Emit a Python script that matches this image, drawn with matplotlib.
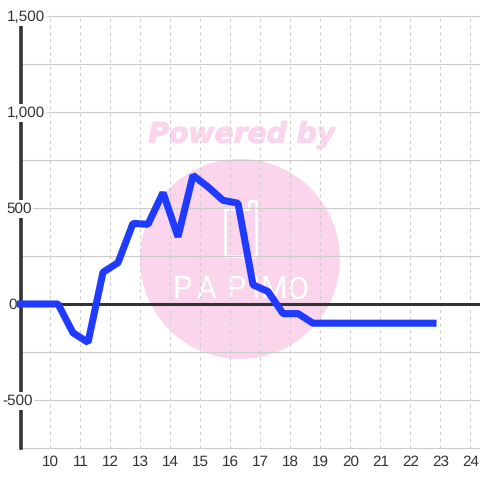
import matplotlib
matplotlib.use('Agg')
import matplotlib.pyplot as plt
import matplotlib.patheffects as pe
from matplotlib.patches import Circle, Polygon
from matplotlib.transforms import blended_transform_factory, ScaledTranslation

hours = [9, 9.25, 9.75, 10.25, 10.75, 11.25, 11.75, 12.25, 12.75, 13.25, 13.75,
         14.25, 14.75, 15.25, 15.75, 16.25, 16.75, 17.25, 17.75, 18.25, 18.75,
         19.25, 19.75, 20.25, 20.75, 21.25, 21.75, 22.25, 22.75]
values = [0, 0, 0, 0, -150, -200, 165, 215, 420, 415, 580,
          350, 670, 610, 540, 525, 100, 65, -50, -50, -100,
          -100, -100, -100, -100, -100, -100, -100, -100]
x_ticks = list(range(10, 25))
y_major = [-500, 0, 500, 1000, 1500]
y_minor = [-750, -250, 250, 750, 1250]
y_labels = ['-500', '0', '500', '1,000', '1,500']
label_left = [2, 8, 6, 7, 7]

plt.rcParams['font.family'] = ['Liberation Sans', 'DejaVu Sans']
plt.rcParams['text.hinting'] = 'none'

fig = plt.figure(figsize=(4.8, 4.8), dpi=100)

# watermark sits behind everything, drawn in pixel coords
bg = fig.add_axes([0, 0, 1, 1], zorder=0)
bg.set_xlim(0, 480)
bg.set_ylim(480, 0)
bg.axis('off')
pink = '#fbd5ec'
bg.add_patch(Circle((240, 259), 100, fc=pink, ec='none'))
bg.text(242, 135, 'Powered by', color=pink, fontsize=20.3, fontweight='bold',
        fontstyle='italic', family='DejaVu Sans', ha='center', va='center',
        path_effects=[pe.withStroke(linewidth=0.8, foreground=pink)])
phone = Polygon([(225, 209), (249, 209), (249, 201), (256, 201), (256, 256), (225, 256)],
                closed=True, fc='none', ec='white', lw=1.9, joinstyle='round')
bg.add_patch(phone)
for x, ch in zip([182, 207, 236, 255, 274, 298], 'PAPIMO'):
    bg.text(x, 290, ch, color='white', fontsize=22, family='Roboto',
            ha='center', va='center')

ax = fig.add_axes([20.5/480, 32/480, 459.5/480, 432/480], zorder=1)
ax.patch.set_alpha(0)
ax.set_xlim(9, 24.317)
ax.set_ylim(-750, 1500)
for s in ax.spines.values():
    s.set_visible(False)
ax.tick_params(left=False, bottom=False, labelleft=False, labelbottom=False)

for y in y_major + y_minor:
    ax.axhline(y, color='#cccccc', lw=0.8, zorder=1, clip_on=False)
for x in x_ticks:
    ax.axvline(x, color='#cccccc', lw=0.75, ls=(0, (3, 3.5)), zorder=1)
ax.axvline(9, color='#333333', lw=2.6, zorder=2, clip_on=False)
ax.axhline(0, color='#333333', lw=2.2, zorder=2)

ax.plot(hours, values, color='#1f3bff', lw=5.1, solid_joinstyle='bevel',
        solid_capstyle='projecting', zorder=3, clip_on=False)

down = ScaledTranslation(0, -14/100, fig.dpi_scale_trans)
for x in x_ticks:
    ax.text(x, -750, str(x), color='#333333', fontsize=11, ha='center', va='center',
            transform=ax.transData + down)

# y labels sit on the axis with a white box behind
ytrans = blended_transform_factory(bg.transData, ax.transData)
nudge = ScaledTranslation(0, -1/100, fig.dpi_scale_trans)
for y, lab, left in zip(y_major, y_labels, label_left):
    zo = 4 if y != 0 else 2.5
    ax.text(left, y, lab, color='#333333', fontsize=11, ha='left', va='center',
            transform=ytrans + nudge, zorder=zo,
            bbox=dict(fc='white', ec='none', pad=1.2) if y != 0 else None)

fig.savefig('out.png', dpi=100, facecolor='white')
